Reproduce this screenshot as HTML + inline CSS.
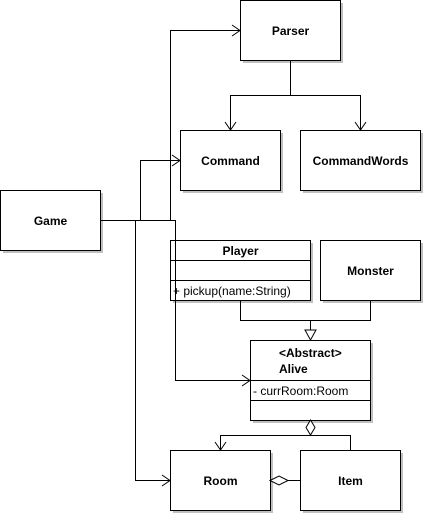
<!DOCTYPE html>
<html><head><style>
body{margin:0;background:#fff;width:425px;height:515px;overflow:hidden}
svg text{font-family:"Liberation Sans",Arial,sans-serif;font-size:12px;fill:#000}
</style></head><body>
<svg width="425" height="515" viewBox="0 0 425 515" xmlns="http://www.w3.org/2000/svg">
<g fill="#c0c0c0">
<rect x="243" y="3" width="100" height="60"/>
<rect x="183" y="133" width="100" height="60"/>
<rect x="303" y="133" width="120" height="60"/>
<rect x="3" y="193" width="100" height="60"/>
<rect x="173" y="243" width="140" height="60"/>
<rect x="323" y="243" width="100" height="60"/>
<rect x="253" y="343" width="120" height="80"/>
<rect x="173" y="453" width="100" height="60"/>
<rect x="303" y="453" width="100" height="60"/>
</g>
<g fill="#fff" stroke="#000" stroke-width="1">
<rect x="240.5" y="0.5" width="100" height="60"/>
<rect x="180.5" y="130.5" width="100" height="60"/>
<rect x="300.5" y="130.5" width="120" height="60"/>
<rect x="0.5" y="190.5" width="100" height="60"/>
<rect x="170.5" y="240.5" width="140" height="60"/>
<rect x="320.5" y="240.5" width="100" height="60"/>
<rect x="250.5" y="340.5" width="120" height="80"/>
<rect x="170.5" y="450.5" width="100" height="60"/>
<rect x="300.5" y="450.5" width="100" height="60"/>
</g>
<g fill="none" stroke="#000" stroke-width="1">
<path d="M170.5 260.5H310.5M170.5 280.5H310.5M250.5 380.5H370.5M250.5 400.5H370.5"/>
<path d="M100 220.5H175.5V380.5H250"/>
<path d="M170.5 220.5V30.5H240"/>
<path d="M140.5 220.5V160.5H180"/>
<path d="M135.5 220.5V480.5H170"/>
<path d="M290.5 60V95.5H230.5V130M290.5 95.5H360.5V130"/>
<path d="M240.5 300V320.5H370.5V300M310.5 320.5V330"/>
<path d="M310.5 435V435.5H220.5V450M310.5 435.5H350.5V450"/>
<path d="M288 480.5H300"/>
<path d="M232 25L240 30.5L232 36M172 155L180 160.5L172 166M242 375L250 380.5L242 386M162 475L170 480.5L162 486"/>
<path d="M225 122L230.5 130L236 122M355 122L360.5 130L366 122M215 442L220.5 450L226 442"/>
<path d="M305 330H316L310.5 340Z" fill="#fff"/>
<path d="M310.5 420L315 427.5L310.5 435L306 427.5Z" fill="#fff"/>
<path d="M270 480.5L279 476L288 480.5L279 485Z" fill="#fff"/>
</g>
<g font-weight="bold" text-anchor="middle">
<text x="290.5" y="35">Parser</text>
<text x="230.5" y="165">Command</text>
<text x="360.5" y="165">CommandWords</text>
<text x="50.5" y="225">Game</text>
<text x="240.5" y="255">Player</text>
<text x="370.5" y="275">Monster</text>
<text x="220.5" y="485">Room</text>
<text x="350.5" y="485">Item</text>
</g>
<text x="279" y="357" font-weight="bold">&lt;Abstract&gt;</text>
<text x="279" y="373" font-weight="bold">Alive</text>
<text x="173" y="295">+ pickup(name:String)</text>
<text x="253" y="395">- currRoom:Room</text>
</svg>
</body></html>
